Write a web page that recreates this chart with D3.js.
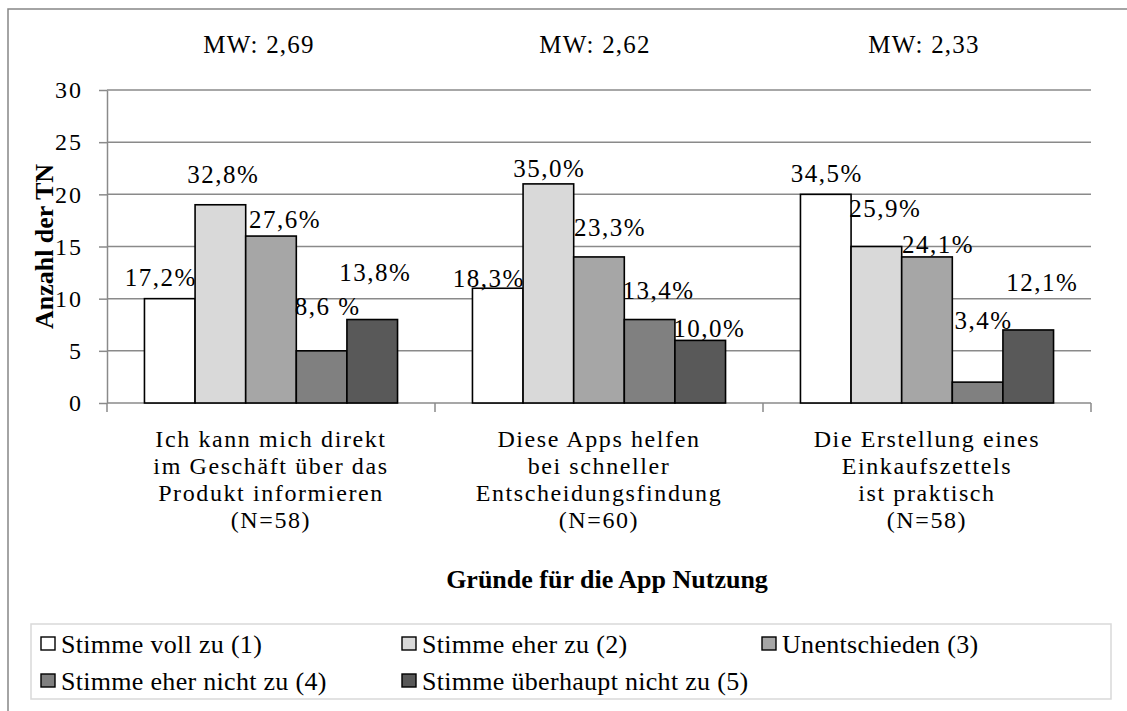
<!DOCTYPE html>
<html>
<head>
<meta charset="utf-8">
<script src="https://cdn.jsdelivr.net/npm/d3@7"></script>
<style>
  html, body { margin: 0; padding: 0; background: #fff; }
  svg text { font-family: "Liberation Serif", "Times New Roman", serif; fill: #000; }
</style>
</head>
<body>
<svg id="chart" width="1127" height="711"></svg>
<script>
// ---- data ----
const categories = [
  ["Ich kann mich direkt", "im Geschäft über das", "Produkt informieren", "(N=58)"],
  ["Diese Apps helfen", "bei schneller", "Entscheidungsfindung", "(N=60)"],
  ["Die Erstellung eines", "Einkaufszettels", "ist praktisch", "(N=58)"]
];
const seriesNames = [
  "Stimme voll zu (1)",
  "Stimme eher zu (2)",
  "Unentschieden (3)",
  "Stimme eher nicht zu (4)",
  "Stimme überhaupt nicht zu (5)"
];
// counts per category, one entry per series
const counts = [
  [10, 19, 16, 5, 8],
  [11, 21, 14, 8, 6],
  [20, 15, 14, 2, 7]
];
const percentLabels = [
  ["17,2%", "32,8%", "27,6%", "8,6 %", "13,8%"],
  ["18,3%", "35,0%", "23,3%", "13,4%", "10,0%"],
  ["34,5%", "25,9%", "24,1%", "3,4%", "12,1%"]
];
const meanLabels = ["MW: 2,69", "MW: 2,62", "MW: 2,33"];
const yTicks = [0, 5, 10, 15, 20, 25, 30];
const yTitle = "Anzahl der TN";
const xTitle = "Gründe für die App Nutzung";

// ---- styling ----
const fontStack = "'Liberation Serif', 'Times New Roman', serif";
const fills = ["#ffffff", "#d9d9d9", "#a6a6a6", "#808080", "#595959"];
const gridColor = "#8a8a8a";
// hand-placed data label offsets: [dx from bar centre, gap above bar top]
const labelNudge = [
  [[-9, 13], [3, 22], [14, 8], [6, 36], [3, 39]],
  [[-9, 1], [1, 7], [11, 21], [9, 21], [9, 3]],
  [[1, 12], [9, 30], [11, 4], [6, 53], [14, 39]]
];
const meanDx = [-12, -4, -3];

const svg = d3.select("#chart");

// outer frame (runs off the right and bottom edges)
svg.append("rect")
  .attr("x", 8).attr("y", 9).attr("width", 1140).attr("height", 720)
  .attr("fill", "none").attr("stroke", "#868686").attr("stroke-width", 1.5);

const plot = { left: 107, right: 1091, top: 90, bottom: 403 };

const x0 = d3.scaleBand().domain(d3.range(categories.length))
  .range([plot.left, plot.right]).paddingInner(0).paddingOuter(0);
const x1 = d3.scaleBand().domain(d3.range(seriesNames.length))
  .range([0, x0.bandwidth()]).paddingInner(0).paddingOuter(0.74);
const y = d3.scaleLinear().domain([0, 30]).range([plot.bottom, plot.top]);

// gridlines
svg.append("g").selectAll("line")
  .data(yTicks.filter(t => t > 0))
  .join("line")
  .attr("x1", plot.left).attr("x2", plot.right)
  .attr("y1", d => y(d)).attr("y2", d => y(d))
  .attr("stroke", gridColor).attr("stroke-width", 1.5);

// y axis
const yAxis = svg.append("g")
  .attr("transform", `translate(${plot.left},0)`)
  .call(d3.axisLeft(y).tickValues(yTicks).tickSize(8).tickPadding(16).tickSizeOuter(0));
yAxis.attr("font-family", fontStack);
yAxis.select(".domain").attr("stroke", gridColor).attr("stroke-width", 1.5);
yAxis.selectAll(".tick line").attr("stroke", gridColor).attr("stroke-width", 1.5);
yAxis.selectAll(".tick text")
  .style("font-family", fontStack)
  .attr("font-size", 24).attr("letter-spacing", 2)
  .attr("fill", "#000").attr("dy", "0.32em");

// x axis line with category boundary ticks
svg.append("line")
  .attr("x1", plot.left).attr("x2", plot.right)
  .attr("y1", y(0)).attr("y2", y(0))
  .attr("stroke", gridColor).attr("stroke-width", 1.5);
const bounds = d3.range(categories.length).map(i => x0(i)).concat([x0(categories.length - 1) + x0.bandwidth()]);
svg.append("g").selectAll("line").data(bounds).join("line")
  .attr("x1", d => d).attr("x2", d => d)
  .attr("y1", y(0)).attr("y2", y(0) + 9)
  .attr("stroke", gridColor).attr("stroke-width", 1.5);

// bars
const groups = svg.append("g").selectAll("g")
  .data(counts).join("g")
  .attr("transform", (d, i) => `translate(${x0(i)},0)`);
groups.selectAll("rect")
  .data(d => d).join("rect")
  .attr("x", (d, j) => x1(j))
  .attr("y", d => y(d))
  .attr("width", x1.bandwidth())
  .attr("height", d => y(0) - y(d))
  .attr("fill", (d, j) => fills[j])
  .attr("stroke", "#000").attr("stroke-width", 1.6);

// percentage labels
groups.each(function (row, i) {
  d3.select(this).selectAll("text")
    .data(row).join("text")
    .style("font-family", fontStack)
    .attr("x", (d, j) => x1(j) + x1.bandwidth() / 2 + labelNudge[i][j][0])
    .attr("y", (d, j) => y(d) - labelNudge[i][j][1])
    .attr("text-anchor", "middle")
    .attr("font-size", 25).attr("letter-spacing", 1.5)
    .text((d, j) => percentLabels[i][j]);
});

// mean values above each group
svg.append("g").selectAll("text").data(meanLabels).join("text")
  .style("font-family", fontStack)
  .attr("x", (d, i) => x0(i) + x0.bandwidth() / 2 + meanDx[i])
  .attr("y", 53)
  .attr("text-anchor", "middle")
  .attr("font-size", 25).attr("letter-spacing", 1.2)
  .text(d => d);

// category labels
const catG = svg.append("g").selectAll("text").data(categories).join("text")
  .style("font-family", fontStack)
  .attr("text-anchor", "middle")
  .attr("font-size", 24).attr("letter-spacing", 1.6);
catG.each(function (lines, i) {
  d3.select(this).selectAll("tspan").data(lines).join("tspan")
    .attr("x", x0(i) + x0.bandwidth() / 2)
    .attr("y", (d, k) => y(0) + 44 + k * 27)
    .text(d => d);
});

// axis titles
svg.append("text")
  .style("font-family", fontStack)
  .attr("x", (plot.left + plot.right) / 2 + 8).attr("y", 588)
  .attr("text-anchor", "middle")
  .attr("font-size", 26).attr("font-weight", "bold")
  .text(xTitle);
svg.append("text")
  .style("font-family", fontStack)
  .attr("transform", `translate(53,${(plot.top + plot.bottom) / 2}) rotate(-90)`)
  .attr("text-anchor", "middle")
  .attr("font-size", 26).attr("font-weight", "bold")
  .text(yTitle);

// legend
svg.append("rect")
  .attr("x", 31).attr("y", 624).attr("width", 1080).attr("height", 75)
  .attr("fill", "#fff").attr("stroke", "#d9d9d9").attr("stroke-width", 1.5);
const legendCols = [41, 402, 762];
const legendItems = svg.append("g").selectAll("g").data(seriesNames).join("g")
  .attr("transform", (d, j) => `translate(${legendCols[j % 3]},${653 + Math.floor(j / 3) * 37})`);
legendItems.append("rect")
  .attr("x", 0).attr("y", -16).attr("width", 14).attr("height", 13)
  .attr("fill", (d, j) => fills[j]).attr("stroke", "#000").attr("stroke-width", 1.4);
legendItems.append("text")
  .style("font-family", fontStack)
  .attr("x", 20).attr("y", 0)
  .attr("font-size", 26).attr("letter-spacing", 0.3)
  .text(d => d);
</script>
</body>
</html>
